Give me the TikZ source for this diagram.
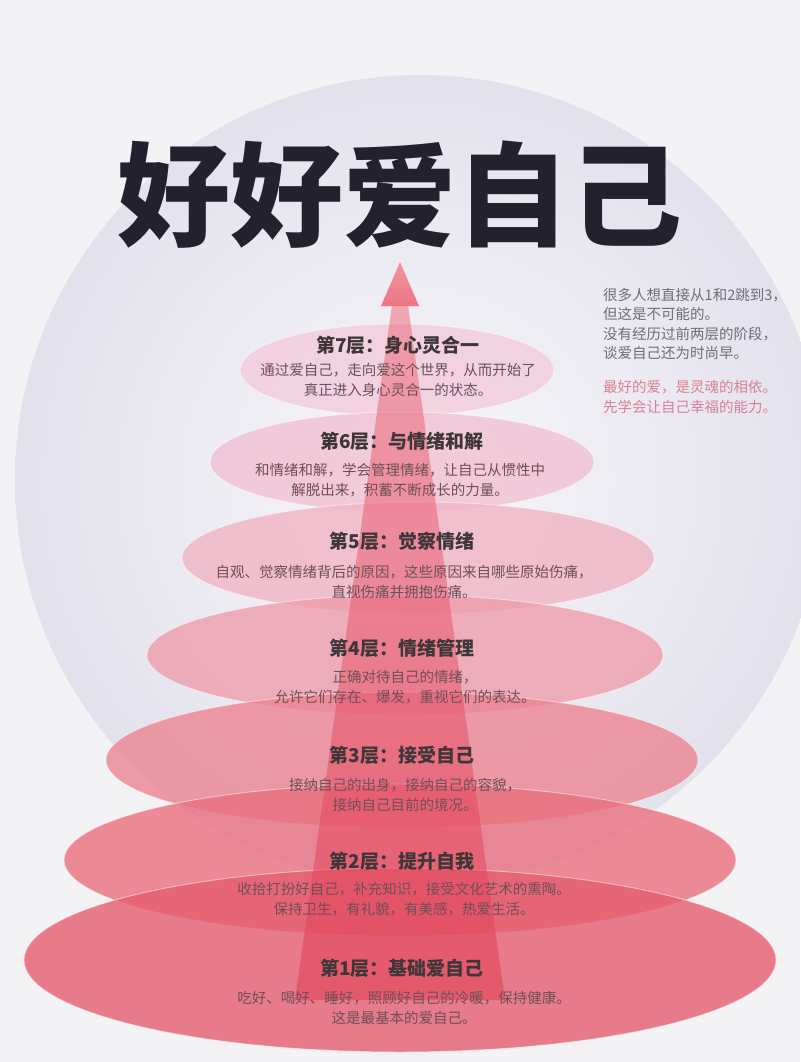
\documentclass[tikz,border=0pt]{standalone}
\usepackage{fontspec}
\setmainfont{Noto Sans CJK SC}
\usepackage{xcolor}
\usetikzlibrary{positioning}

\definecolor{bgcol}{HTML}{F3F2F5}
\definecolor{discin}{HTML}{F8F7FA}
\definecolor{discout}{HTML}{E3E1EC}
\definecolor{titleink}{HTML}{22212E}
\definecolor{headgray}{HTML}{3E3639}
\definecolor{bodygray}{HTML}{6E4F58}
\definecolor{notegray}{HTML}{6E6C78}
\definecolor{notepink}{HTML}{D9828F}
\definecolor{lay1}{HTML}{E65E6E}
\definecolor{lay2}{HTML}{E9707E}
\definecolor{lay3}{HTML}{EC8592}
\definecolor{lay4}{HTML}{EE9DAC}
\definecolor{lay5}{HTML}{F0B4C4}
\definecolor{lay6}{HTML}{F1C1D2}
\definecolor{lay7}{HTML}{F2CBDB}
\definecolor{conetop}{HTML}{EE6E80}
\definecolor{conebot}{HTML}{E23E54}

\tikzset{
  layer/.style={fill opacity=0.8, draw=white, draw opacity=0.45, line width=1},
  lvlhead/.style={font=\fontsize{19}{22}\selectfont\bfseries, text=headgray, inner sep=0},
  lvlbody/.style={font=\fontsize{14.5}{19.5}\selectfont, text=bodygray, align=center, inner sep=0},
  note/.style={font=\fontsize{14.5}{19.5}\selectfont, align=left, anchor=north west, inner sep=0},
}

\begin{document}
\begin{tikzpicture}[x=1pt,y=-1pt]
        \useasboundingbox (0,0) rectangle (800,1062);
        % Background and disc
        \fill[bgcol] (0,0) rectangle (800,1062);
        \shade[inner color=discin, outer color=discout] (420,480) circle (405);

        % Title
        \node (title) at (400,195) {\fontsize{113}{113}\selectfont\bfseries\color{titleink}好好爱自己};

        % Side notes
        \node[note, text=notegray] (note1) at (603,288)
          {很多人想直接从1和2跳到3，\\但这是不可能的。\\没有经历过前两层的阶段，\\谈爱自己还为时尚早。};
        \node[note, text=notepink, below=20pt of note1.south west, anchor=north west] (note2)
          {最好的爱，是灵魂的相依。\\先学会让自己幸福的能力。};

        % Layers, top to bottom
        \fill[lay7, layer] (397,370) ellipse [x radius=157, y radius=46];
        \fill[lay6, layer] (402,462) ellipse [x radius=192, y radius=50];
        \fill[lay5, layer] (418,558) ellipse [x radius=236, y radius=56];
        \fill[lay4, layer] (405,655) ellipse [x radius=258, y radius=60];
        \fill[lay3, layer] (402,760) ellipse [x radius=296, y radius=68];
        \fill[lay2, layer] (400,860) ellipse [x radius=336, y radius=76];
        \fill[lay1, layer] (400,960) ellipse [x radius=376, y radius=92];

        % Rising arrow
        \shade[top color=conetop, bottom color=conebot, fill opacity=0.55]
          (392,305) -- (408,305) -- (505,1000) -- (295,1000) -- cycle;
        \shade[top color=conetop!75!white, bottom color=conetop, fill opacity=0.95]
          (400,262) -- (419,306) -- (381,306) -- cycle;

        % Level texts
        \node[lvlhead] (h7) at (398,345) {第7层：身心灵合一};
        \node[lvlbody] (b7) at (398,380) {通过爱自己，走向爱这个世界，从而开始了\\真正进入身心灵合一的状态。};
        \node[lvlhead] (h6) at (402,441) {第6层：与情绪和解};
        \node[lvlbody] (b6) at (400,480) {和情绪和解，学会管理情绪，让自己从惯性中\\解脱出来，积蓄不断成长的力量。};
        \node[lvlhead] (h5) at (402,541) {第5层：觉察情绪};
        \node[lvlbody] (b5) at (404,582) {自观、觉察情绪背后的原因，这些原因来自哪些原始伤痛，\\直视伤痛并拥抱伤痛。};
        \node[lvlhead] (h4) at (402,648) {第4层：情绪管理};
        \node[lvlbody] (b4) at (405,687) {正确对待自己的情绪，\\允许它们存在、爆发，重视它们的表达。};
        \node[lvlhead] (h3) at (402,755) {第3层：接受自己};
        \node[lvlbody] (b3) at (405,795) {接纳自己的出身，接纳自己的容貌，\\接纳自己目前的境况。};
        \node[lvlhead] (h2) at (402,861) {第2层：提升自我};
        \node[lvlbody] (b2) at (404,899) {收拾打扮好自己，补充知识，接受文化艺术的熏陶。\\保持卫生，有礼貌，有美感，热爱生活。};
        \node[lvlhead] (h1) at (402,968) {第1层：基础爱自己};
        \node[lvlbody] (b1) at (404,1008) {吃好、喝好、睡好，照顾好自己的冷暖，保持健康。\\这是最基本的爱自己。};
\end{tikzpicture}
\end{document}
